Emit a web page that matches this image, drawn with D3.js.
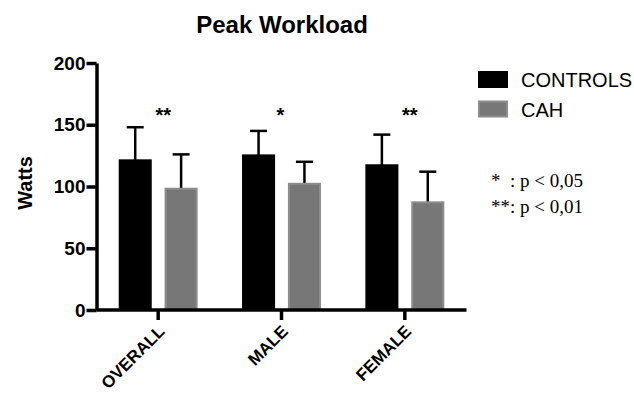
<!DOCTYPE html>
<html lang="en">
<head>
<meta charset="UTF-8">
<title>Peak Workload</title>
<style>
  body { margin: 0; background: #fff; }
  svg { font-family: "Liberation Sans", Arial, sans-serif; }
  .axis path, .axis line { stroke: #000; stroke-width: 3.5px; }
  .axis text { font-weight: bold; fill: #000; }
</style>
</head>
<body>
<div id="chart"></div>
<script src="https://d3js.org/d3.v7.min.js"></script>
<script>
// data
const categories = ["OVERALL", "MALE", "FEMALE"];
const series = ["CONTROLS", "CAH"];
const controlsMean = [122, 126, 118];
const controlsSD   = [26, 19, 24];
const cahMean      = [99, 103, 88];
const cahSD        = [27, 17, 24];
const significance = ["**", "*", "**"];
const yTicks = [0, 50, 100, 150, 200];

const width = 634, height = 393;
const svg = d3.select("#chart").append("svg")
  .attr("width", width).attr("height", height);

// scales
const x0 = d3.scaleBand().domain(categories)
  .range([96.5, 466.5]).paddingInner(0.36).paddingOuter(0.18);
const x1 = d3.scaleBand().domain(series)
  .range([0, x0.bandwidth()]).paddingInner(0.28).paddingOuter(0);
const y = d3.scaleLinear().domain([0, 200]).range([310, 63]);
const color = { CONTROLS: "#000", CAH: "#777" };
const edge = { CONTROLS: "#000", CAH: "#8c8c8c" };

const rows = categories.map((c, i) => ({
  cat: c,
  vals: [
    { s: "CONTROLS", m: controlsMean[i], sd: controlsSD[i] },
    { s: "CAH", m: cahMean[i], sd: cahSD[i] }
  ]
}));

// title
svg.append("text")
  .attr("x", 282).attr("y", 33)
  .attr("text-anchor", "middle")
  .style("font-size", "24px").style("font-weight", "bold")
  .text("Peak Workload");

// bars + upper error whiskers
const g = svg.selectAll(".grp").data(rows).enter().append("g")
  .attr("transform", d => `translate(${x0(d.cat)},0)`);

g.selectAll("line.err").data(d => d.vals).enter().append("line")
  .attr("x1", d => x1(d.s) + x1.bandwidth() / 2)
  .attr("x2", d => x1(d.s) + x1.bandwidth() / 2)
  .attr("y1", d => y(d.m) + 4)
  .attr("y2", d => y(d.m + d.sd))
  .attr("stroke", "#000").attr("stroke-width", 2.5);

g.selectAll("line.cap").data(d => d.vals).enter().append("line")
  .attr("x1", d => x1(d.s) + x1.bandwidth() / 2 - 8.5)
  .attr("x2", d => x1(d.s) + x1.bandwidth() / 2 + 8.5)
  .attr("y1", d => y(d.m + d.sd))
  .attr("y2", d => y(d.m + d.sd))
  .attr("stroke", "#000").attr("stroke-width", 2.5);

g.selectAll("rect").data(d => d.vals).enter().append("rect")
  .attr("x", d => x1(d.s) + 1)
  .attr("width", x1.bandwidth() - 2)
  .attr("y", d => y(d.m) + 1)
  .attr("height", d => y(0) - y(d.m) - 1)
  .attr("fill", d => color[d.s])
  .attr("stroke", d => edge[d.s])
  .attr("stroke-width", 2);

// significance stars
svg.selectAll("text.sig").data(rows).enter().append("text")
  .attr("x", (d, i) => x0(d.cat) + x0.bandwidth() / 2 + (significance[i] === "**" ? 5 : -1))
  .attr("y", 122)
  .attr("text-anchor", "middle")
  .style("font-size", "20px").style("font-weight", "bold")
  .text((d, i) => significance[i]);

// axes
svg.append("g").attr("class", "axis")
  .attr("transform", "translate(96.5,0)")
  .call(d3.axisLeft(y).tickValues(yTicks).tickSize(10).tickSizeOuter(0).tickPadding(1))
  .selectAll("text").style("font-size", "19px");

const xa = svg.append("g").attr("class", "axis")
  .attr("transform", "translate(0,310)")
  .call(d3.axisBottom(x0).tickSize(10).tickSizeOuter(0));
xa.select(".domain").attr("d", "M96.5,0H466.5");
xa.selectAll("text")
  .style("font-size", "17px")
  .attr("text-anchor", "end")
  .attr("dy", null)
  .attr("transform", "translate(-1,14) rotate(-45)")
  .attr("y", 0).attr("x", 0)
  .attr("dominant-baseline", "hanging");

// y label
svg.append("text")
  .attr("transform", "translate(32,183) rotate(-90)")
  .attr("text-anchor", "middle")
  .style("font-size", "20px").style("font-weight", "bold")
  .text("Watts");

// legend
const lg = svg.selectAll(".lg").data(series).enter().append("g")
  .attr("transform", (d, i) => `translate(478,${71 + i * 29.5})`);
lg.append("rect")
  .attr("x", 1).attr("y", 1).attr("width", 28).attr("height", 15)
  .attr("fill", d => color[d]).attr("stroke", d => edge[d]).attr("stroke-width", 2);
lg.append("text")
  .attr("x", 43).attr("y", 16)
  .style("font-size", "20px")
  .text(d => d);

// p-value note
const noteStars = ["*", "**"];
const noteText = [": p < 0,05", ": p < 0,01"];
const nt = svg.selectAll(".note").data(noteStars).enter().append("text")
  .attr("y", (d, i) => 187 + i * 26)
  .style("font-family", "'Liberation Serif', 'Times New Roman', serif")
  .style("font-size", "19px");
nt.append("tspan").attr("x", 491).text(d => d);
nt.append("tspan").attr("x", 510).text((d, i) => noteText[i]);
</script>
</body>
</html>
